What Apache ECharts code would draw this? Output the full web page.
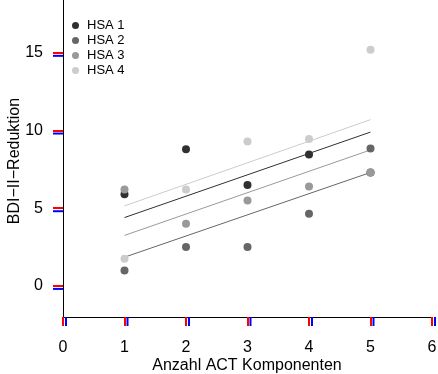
<!DOCTYPE html>
<html>
<head>
<meta charset="utf-8">
<script src="https://cdn.jsdelivr.net/npm/echarts@6/dist/echarts.min.js"></script>
<style>
  html, body { margin: 0; padding: 0; background: #fff; }
  #chart { width: 438px; height: 374px; }
</style>
</head>
<body>
<div id="chart"></div>
<script>
// x positions (number of ACT components)
const xValues = [1, 2, 3, 4, 5];

// observed BDI-II reduction per HSA group
const hsa1 = [5.9, 8.8, 6.5, 8.45, 7.3];
const hsa2 = [1.0, 2.5, 2.5, 4.65, 8.85];
const hsa3 = [6.2, 4.0, 5.5, 6.4, 7.3];
const hsa4 = [1.75, 6.2, 9.3, 9.45, 15.2];

// fitted lines (value at x = 1 and x = 5)
const fitX = [1, 5];
const fit1 = [4.4, 9.9];
const fit2 = [1.85, 7.3];
const fit3 = [3.25, 8.75];
const fit4 = [5.15, 10.7];

const groupNames = ["HSA 1", "HSA 2", "HSA 3", "HSA 4"];
const groupColors = ["#303030", "#666666", "#999999", "#cccccc"];
const xTicks = [0, 1, 2, 3, 4, 5, 6];
const yTicks = [0, 5, 10, 15];
const xTitle = "Anzahl ACT Komponenten";
const yTitle = "BDI\u2212II\u2212Reduktion";

const X_MIN = 0, X_MAX = 6, Y_MIN = -2, Y_MAX = 18.4;

const groups = [hsa1, hsa2, hsa3, hsa4];
const fits = [fit1, fit2, fit3, fit4];

const chart = echarts.init(document.getElementById("chart"));

const series = [];

fits.forEach((fit, i) => {
  series.push({
    name: "fit " + (i + 1),
    type: "line",
    data: fitX.map((x, j) => [x, fit[j]]),
    showSymbol: false,
    silent: true,
    lineStyle: { color: groupColors[i], width: 1 },
    z: 2,
  });
});

groups.forEach((vals, i) => {
  series.push({
    name: groupNames[i],
    type: "scatter",
    data: xValues.map((x, j) => [x, vals[j]]),
    symbolSize: 8,
    itemStyle: { color: groupColors[i], opacity: 1 },
    z: 3 + i,
  });
});

// outward axis ticks drawn through the chart's scales
const tickData = [
  ...xTicks.map((v) => [v, Y_MIN, 0]),
  ...yTicks.map((v) => [X_MIN, v, 1]),
];
series.push({
  name: "ticks",
  type: "custom",
  silent: true,
  clip: false,
  data: tickData,
  renderItem: (params, api) => {
    const p = api.coord([api.value(0), api.value(1)]);
    const isY = api.value(2) === 1;
    return {
      type: "line",
      shape: isY
        ? { x1: p[0] - 10, y1: p[1] + 3, x2: p[0], y2: p[1] + 3 }
        : { x1: p[0] + 3, y1: p[1], x2: p[0] + 3, y2: p[1] + 9 },
      style: { stroke: "blue", lineWidth: 2 },
    };
  },
  z: 10,
});

const font = "Liberation Sans";
const axisText = { color: "#000", fontFamily: font, fontSize: 16 };

chart.setOption({
  animation: false,
  grid: { left: 63, right: 6, top: 0, bottom: 57, outerBoundsMode: "none" },
  graphic: [
    {
      type: "text",
      x: 247,
      y: 366,
      style: { text: xTitle, fill: "#000", font: "16px " + font, textAlign: "center", textVerticalAlign: "middle" },
    },
    {
      type: "text",
      x: 15,
      y: 161,
      rotation: Math.PI / 2,
      style: { text: yTitle, fill: "#000", font: "16px " + font, textAlign: "center", textVerticalAlign: "middle" },
    },
  ],
  legend: {
    data: groupNames,
    orient: "vertical",
    left: 72,
    top: 19,
    padding: 0,
    icon: "circle",
    itemWidth: 7,
    itemHeight: 7,
    itemGap: 2,
    textStyle: { color: "#000", fontSize: 13, fontFamily: font, padding: [0, 0, 0, 3] },
  },
  xAxis: {
    type: "value",
    min: X_MIN,
    max: X_MAX,
    interval: 1,
    axisLine: { show: true, onZero: false, lineStyle: { color: "#000", width: 1 } },
    axisTick: { show: true, length: 9, lineStyle: { color: "red", width: 2 } },
    axisLabel: { ...axisText, margin: 23 },
    splitLine: { show: false },
  },
  yAxis: {
    type: "value",
    min: Y_MIN,
    max: Y_MAX,
    axisLine: { show: true, onZero: false, lineStyle: { color: "#000", width: 1 } },
    axisTick: { show: true, length: 10, customValues: yTicks, lineStyle: { color: "red", width: 2 } },
    axisLabel: { ...axisText, margin: 20, customValues: yTicks },
    splitLine: { show: false },
  },
  series,
});
</script>
</body>
</html>
